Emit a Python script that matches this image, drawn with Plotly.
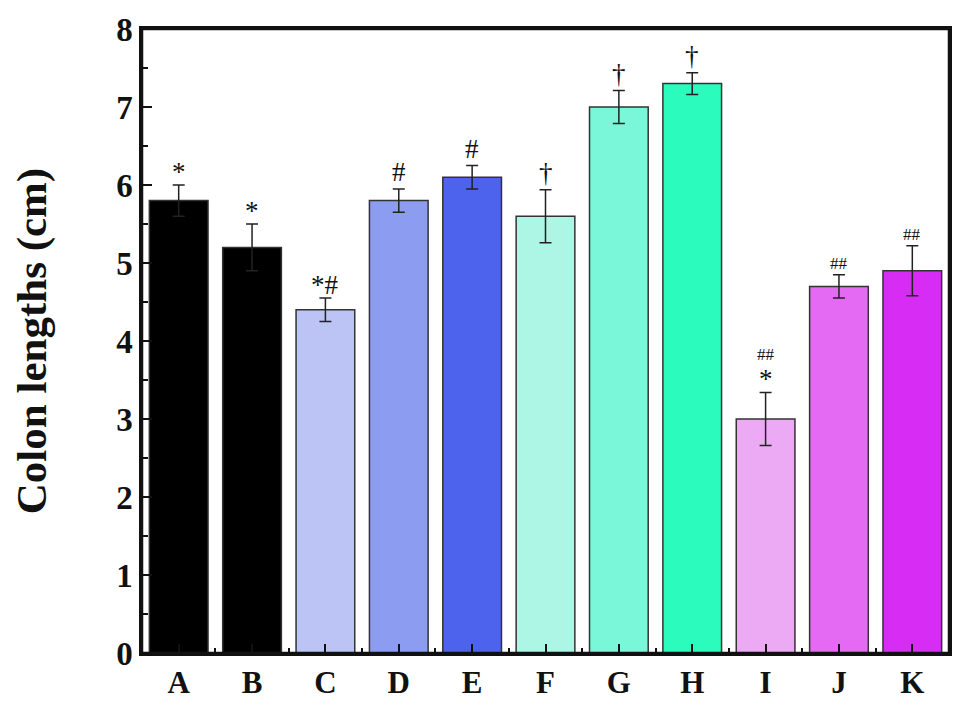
import plotly.graph_objects as go

# groups and colon lengths (cm)
groups = ['A', 'B', 'C', 'D', 'E', 'F', 'G', 'H', 'I', 'J', 'K']
lengths = [5.8, 5.2, 4.4, 5.8, 6.1, 5.6, 7.0, 7.3, 3.0, 4.7, 4.9]
errors = [0.2, 0.3, 0.15, 0.15, 0.15, 0.34, 0.21, 0.14, 0.34, 0.15, 0.32]
marks = ['*', '*', '*#', '#', '#', '†', '†', '†', '*', '##', '##']
colors = ['#000000', '#000000', '#bcc4f5', '#8b9cf1', '#4d63ee', '#adf5e5',
          '#7af7d8', '#2bfbbc', '#ecaaf4', '#e46af4', '#d62cf4']

serif = 'Times New Roman, Liberation Serif, serif'
xs = list(range(len(groups)))

fig = go.Figure()
fig.add_trace(go.Bar(
    x=xs, y=lengths, width=0.8,
    marker=dict(color=colors, line=dict(color='#333333', width=1.5)),
    error_y=dict(type='data', array=errors, color='#222222', thickness=1.5, width=6),
))

# significance marks above the error bars
for x, y, e, m in zip(xs, lengths, errors, marks):
    small = m == '##'
    fig.add_annotation(x=x, y=y + e, text=m, showarrow=False, yanchor='bottom',
                       yshift=-4 if m in ('*', '*#') else 0,
                       font=dict(family=serif, size=17 if small else 27, color='#111'))
# extra "##" over the "*" of group I
fig.add_annotation(x=8, y=lengths[8] + errors[8], text='##', showarrow=False,
                   yanchor='bottom', yshift=26,
                   font=dict(family=serif, size=17, color='#111'))

# frame around the plot area
fig.add_shape(type='rect', xref='paper', yref='paper', x0=0, y0=0, x1=1, y1=1,
              line=dict(color='#111', width=2.5), layer='above')

fig.update_layout(
    width=948, height=696,
    margin=dict(l=134, r=4, t=17, b=51),
    plot_bgcolor='white', paper_bgcolor='white',
    showlegend=False,
    font=dict(family=serif, color='#111'),
    xaxis=dict(
        range=[-0.5, 10.5], tickvals=xs, ticktext=groups,
        ticks='inside', ticklen=9, tickwidth=2, tickcolor='#111',
        minor=dict(tick0=0.5, dtick=1, ticks='inside', ticklen=5, tickwidth=2, tickcolor='#111'),
        showline=True, linewidth=2.5, linecolor='#111', mirror=True,
        showgrid=False, zeroline=False,
        tickfont=dict(family=serif, size=31, weight='bold', color='#111'),
    ),
    yaxis=dict(
        range=[0, 8], dtick=1, ticklabeloverflow='allow',
        ticks='inside', ticklen=10, tickwidth=2, tickcolor='#111',
        minor=dict(dtick=0.5, ticks='inside', ticklen=6, tickwidth=2, tickcolor='#111'),
        showline=True, linewidth=2.5, linecolor='#111', mirror=True,
        showgrid=False, zeroline=False,
        tickfont=dict(family=serif, size=33, weight='bold', color='#111'),
        title=dict(text='Colon lengths (cm)', standoff=58,
                   font=dict(family=serif, size=43, weight='bold', color='#111')),
    ),
)

fig.write_html('out.html')
